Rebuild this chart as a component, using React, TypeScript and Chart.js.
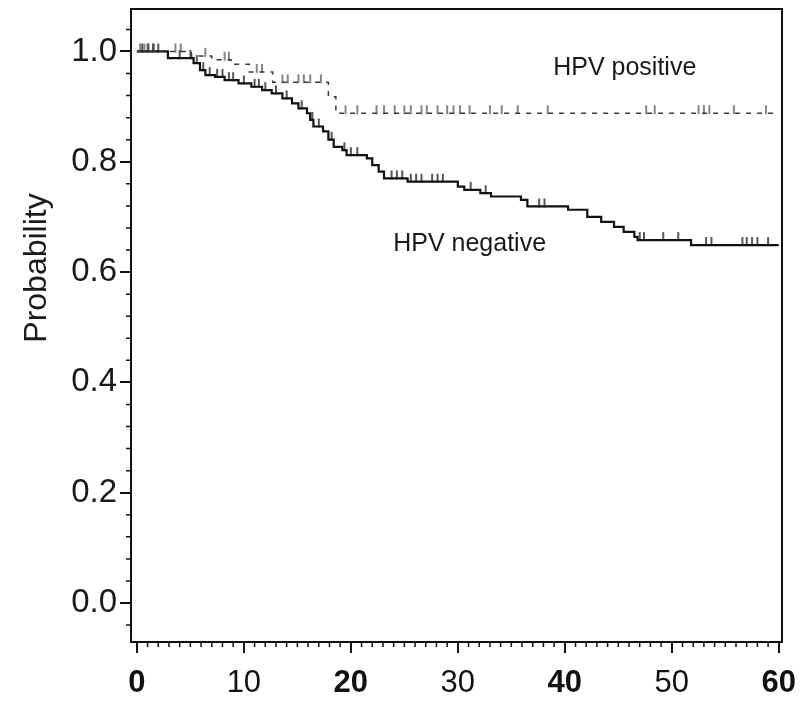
import React, { useEffect, useRef } from "react";
import { Chart, registerables } from "chart.js";

Chart.register(...registerables);

// ---- data ----
const negTimes = [0, 2.9, 5.3, 5.9, 6.4, 7.3, 8.2, 9.5, 10.7, 11.7, 12.6, 13.6, 14.5, 15.1, 15.9, 16.2, 16.5, 17.4, 17.9, 18.4, 19.2, 19.6, 21.5, 22.0, 22.6, 23.1, 25.3, 30.0, 30.6, 32.1, 33.1, 35.9, 36.5, 40.3, 42.1, 43.4, 44.6, 45.5, 46.5, 46.8, 51.8, 60];
const negSurv = [1.0, 0.988, 0.979, 0.966, 0.957, 0.954, 0.948, 0.942, 0.936, 0.93, 0.924, 0.915, 0.906, 0.897, 0.888, 0.876, 0.864, 0.855, 0.84, 0.827, 0.821, 0.812, 0.806, 0.794, 0.782, 0.77, 0.764, 0.755, 0.749, 0.743, 0.737, 0.731, 0.719, 0.713, 0.7, 0.691, 0.682, 0.673, 0.664, 0.658, 0.649, 0.649];

const posTimes = [0, 5.1, 7.0, 8.8, 10.5, 12.7, 17.9, 18.6, 60];
const posSurv = [1.0, 0.992, 0.985, 0.977, 0.963, 0.944, 0.918, 0.888, 0.888];

const negCensored = [0.5, 1, 1.5, 2, 4, 5, 5.6, 6.2, 6.8, 7.5, 8, 8.6, 9, 10, 11, 11.4, 12, 13, 14, 15.4, 16.4, 17, 18.2, 19.4, 20, 20.6, 23.8, 24.3, 24.8, 25.6, 26.1, 26.6, 27.6, 28.1, 28.6, 31.2, 32.6, 37.6, 38.1, 47, 47.4, 49.2, 50.6, 53.2, 53.7, 56.6, 57, 57.5, 58, 59];
const posCensored = [0.3, 0.7, 1.1, 1.6, 3.6, 4.1, 6.4, 8.2, 8.6, 11.2, 11.7, 13.6, 14.1, 15.1, 15.6, 16.2, 17.2, 19.5, 20.6, 22.4, 23.1, 24.1, 25.0, 25.6, 26.6, 27.1, 28.1, 29.0, 29.6, 30.2, 31.1, 33.0, 34.1, 35.6, 38.4, 47.6, 48.4, 52.5, 53.0, 53.5, 55.8, 58.8];

const xTickValues = [0, 10, 20, 30, 40, 50, 60];
const yTickLabels = ["0.0", "0.2", "0.4", "0.6", "0.8", "1.0"];
const seriesNames = ["HPV positive", "HPV negative"];
const axisTitleY = "Probability";

const FONT = '"Liberation Sans", Arial, Helvetica, sans-serif';

function survAt(times: number[], surv: number[], t: number) {
  let v = surv[0];
  for (let i = 0; i < times.length; i++) {
    if (times[i] <= t) v = surv[i];
  }
  return v;
}

function makeTick(color: string, width: number) {
  const c = document.createElement("canvas");
  c.width = 6;
  c.height = 20;
  const g = c.getContext("2d")!;
  g.strokeStyle = color;
  g.lineWidth = width;
  g.beginPath();
  g.moveTo(3, 2);
  g.lineTo(3, 11);
  g.stroke();
  return c;
}

const framePlugin = {
  id: "frame",
  afterDraw(chart: any) {
    const { ctx, chartArea: a, scales } = chart;
    const xs = scales.x;
    const ys = scales.y;
    ctx.save();
    // plot box
    ctx.strokeStyle = "#111";
    ctx.lineWidth = 2;
    ctx.strokeRect(a.left, a.top, a.right - a.left, a.bottom - a.top);
    // minor ticks
    ctx.lineWidth = 1.5;
    ctx.beginPath();
    for (let i = -1; i <= 26; i++) {
      if (i % 5 === 0) continue;
      const py = ys.getPixelForValue(i * 0.04);
      if (py < a.top || py > a.bottom) continue;
      ctx.moveTo(a.left - 5, py);
      ctx.lineTo(a.left, py);
    }
    for (let i = 0; i <= 60; i++) {
      if (i % 10 === 0) continue;
      const px = xs.getPixelForValue(i);
      ctx.moveTo(px, a.bottom);
      ctx.lineTo(px, a.bottom + 5);
    }
    ctx.stroke();
    // y title
    ctx.fillStyle = "#1a1a1a";
    ctx.font = `32px ${FONT}`;
    ctx.textAlign = "center";
    ctx.textBaseline = "middle";
    ctx.save();
    ctx.translate(37, 268);
    ctx.rotate(-Math.PI / 2);
    ctx.fillText(axisTitleY, 0, 0);
    ctx.restore();
    // curve labels
    ctx.font = `25px ${FONT}`;
    ctx.fillText(seriesNames[0], xs.getPixelForValue(45.6), ys.getPixelForValue(0.97));
    ctx.fillText(seriesNames[1], xs.getPixelForValue(31.1), ys.getPixelForValue(0.651));
    ctx.restore();
  },
};

export default function App() {
  const ref = useRef<HTMLCanvasElement | null>(null);

  useEffect(() => {
    document.body.style.margin = "0";
    const canvas = ref.current;
    if (!canvas) return;

    const negLine = negTimes.map((t, i) => ({ x: t, y: negSurv[i] }));
    const posLine = posTimes.map((t, i) => ({ x: t, y: posSurv[i] }));
    const negMarks = negCensored.map((t) => ({ x: t, y: survAt(negTimes, negSurv, t) }));
    const posMarks = posCensored.map((t) => ({ x: t, y: survAt(posTimes, posSurv, t) }));

    const chart = new Chart(canvas, {
      type: "line",
      data: {
        datasets: [
          {
            label: seriesNames[0],
            data: posLine,
            stepped: "before",
            borderColor: "#3a3a3a",
            borderWidth: 1.5,
            borderDash: [5, 6],
            pointRadius: 0,
            fill: false,
          },
          {
            label: seriesNames[0] + " censored",
            data: posMarks,
            showLine: false,
            pointStyle: makeTick("#444", 1.3),
            pointRadius: 4,
          },
          {
            label: seriesNames[1],
            data: negLine,
            stepped: "before",
            borderColor: "#111",
            borderWidth: 2.2,
            pointRadius: 0,
            fill: false,
          },
          {
            label: seriesNames[1] + " censored",
            data: negMarks,
            showLine: false,
            pointStyle: makeTick("#111", 1.4),
            pointRadius: 4,
          },
        ],
      },
      options: {
        animation: false,
        responsive: false,
        events: [],
        layout: { padding: { top: 9, right: 20, left: 0, bottom: 0 } },
        plugins: { legend: { display: false }, tooltip: { enabled: false }, title: { display: false } },
        scales: {
          x: {
            type: "linear",
            min: -0.55,
            max: 60.3,
            border: { display: false },
            grid: { drawOnChartArea: false, drawTicks: true, tickLength: 11, color: "#111", lineWidth: 2 },
            afterBuildTicks: (s: any) => {
              s.ticks = xTickValues.map((v) => ({ value: v }));
            },
            afterFit: (s: any) => {
              s.height = 68;
              s.paddingLeft = 0;
              s.paddingRight = 0;
              s.paddingTop = 0;
              s.paddingBottom = 0;
            },
            ticks: {
              padding: 12,
              color: "#111",
              maxRotation: 0,
              autoSkip: false,
              callback: (v: any) => String(v),
              font: (ctx: any) => ({
                family: FONT,
                size: 31,
                weight: ctx.tick && ctx.tick.value % 20 === 0 ? "bold" : "normal",
              }),
            },
          },
          y: {
            type: "linear",
            min: -0.0707,
            max: 1.077,
            border: { display: false },
            grid: { drawOnChartArea: false, drawTicks: true, tickLength: 11, color: "#111", lineWidth: 2 },
            afterBuildTicks: (s: any) => {
              s.ticks = yTickLabels.map((l) => ({ value: parseFloat(l) }));
            },
            afterFit: (s: any) => {
              s.width = 131;
              s.paddingLeft = 0;
              s.paddingRight = 0;
              s.paddingTop = 0;
              s.paddingBottom = 0;
            },
            ticks: {
              padding: 3,
              color: "#1a1a1a",
              autoSkip: false,
              callback: (v: any) => Number(v).toFixed(1),
              font: { family: FONT, size: 33 },
            },
          },
        },
      },
      plugins: [framePlugin],
    } as any);

    return () => chart.destroy();
  }, []);

  return (
    <div style={{ width: 802, height: 710, background: "#fff" }}>
      <canvas ref={ref} width={802} height={710} style={{ display: "block" }} />
    </div>
  );
}
